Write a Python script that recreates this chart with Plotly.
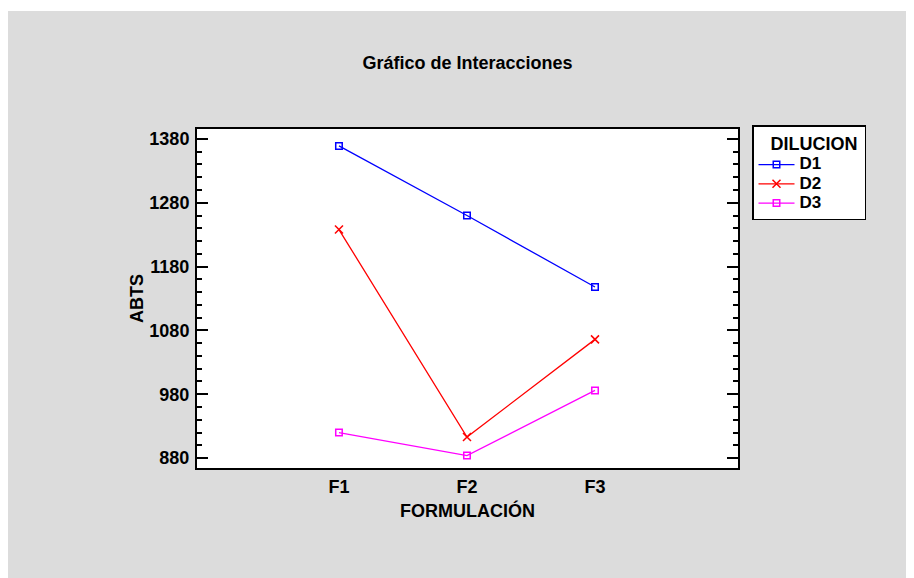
import plotly.graph_objects as go

# Interaction plot: ABTS by FORMULACIÓN for each DILUCION level
formulaciones = ["F1", "F2", "F3"]
d1_abts = [1369, 1260, 1148]
d2_abts = [1238, 913, 1066]
d3_abts = [920, 884, 986]
series_names = ["D1", "D2", "D3"]

# the page body adds an 8px margin, so the figure is a bit smaller than the window
W, H = 906, 570
ML, MR, MT, MB = 189, 176, 121, 110
PW, PH = W - ML - MR, H - MT - MB

FONT = "Arial, 'Liberation Sans', sans-serif"
gray_bg = "#dcdcdc"

fig = go.Figure()

styles = [
    dict(color="#0000ff", symbol="square-open", size=6.5),
    dict(color="#ff0000", symbol="x-thin-open", size=8),
    dict(color="#ff00ff", symbol="square-open", size=6.5),
]
for name, vals, st in zip(series_names, [d1_abts, d2_abts, d3_abts], styles):
    fig.add_trace(go.Scatter(
        x=formulaciones, y=vals,
        # legend rows are packed tighter than the label size, so the label carries its own size
        name=f'<span style="font-size:17px">{name}</span>',
        mode="lines+markers",
        line=dict(color=st["color"], width=1.3),
        marker=dict(symbol=st["symbol"], size=st["size"],
                    color=st["color"], line=dict(color=st["color"], width=1.5)),
    ))


def px_to_paper_x(px):
    return (px - ML) / PW


def px_to_paper_y(py):
    return (H - MB - py) / PH


# thin white strip along the top edge
shapes = [
    dict(type="rect", xref="paper", yref="paper", layer="below",
         x0=px_to_paper_x(0), x1=px_to_paper_x(W),
         y0=px_to_paper_y(3), y1=px_to_paper_y(0),
         fillcolor="white", line=dict(width=0)),
]

fig.update_layout(
    width=W, height=H,
    margin=dict(l=ML, r=MR, t=MT, b=MB, autoexpand=False),
    paper_bgcolor=gray_bg,
    plot_bgcolor="white",
    font=dict(family=FONT, size=18, color="black", weight="bold"),
    title=dict(
        text="Gráfico de Interacciones",
        font=dict(family=FONT, size=18, color="black", weight="bold"),
        x=0.5, xref="paper", xanchor="center",
        y=1 - 55 / H, yref="container", yanchor="middle",
    ),
    xaxis=dict(
        title=dict(text="FORMULACIÓN", standoff=9,
                   font=dict(size=18, weight="bold")),
        range=[-1.109, 3.117],
        showline=True, linecolor="black", linewidth=2, mirror=True,
        ticks="", showgrid=False, zeroline=False,
        tickfont=dict(size=18, weight="bold"),
        ticklabelstandoff=1,
    ),
    yaxis=dict(
        title=dict(text="ABTS", standoff=1,
                   font=dict(size=18, weight="bold")),
        range=[864.5, 1395.5],
        tick0=880, dtick=100,
        showline=True, linecolor="black", linewidth=2, mirror="allticks",
        ticks="inside", ticklen=11, tickwidth=2, tickcolor="black",
        minor=dict(dtick=20, ticks="inside", ticklen=5, tickwidth=1.5,
                   tickcolor="black", showgrid=False),
        showgrid=False, zeroline=False,
        tickfont=dict(size=18, weight="bold"),
        ticklabelstandoff=2,
    ),
    legend=dict(
        title=dict(text="&nbsp;&nbsp;&nbsp;DILUCION&nbsp;",
                   font=dict(size=18, weight="bold")),
        font=dict(size=12.5, weight="bold"),
        x=px_to_paper_x(744), y=px_to_paper_y(117),
        xanchor="left", yanchor="top",
        bgcolor="white", bordercolor="black", borderwidth=1.5,
        itemwidth=36, tracegroupgap=0,
    ),
    shapes=shapes,
    showlegend=True,
)

fig.write_html("out.html")
